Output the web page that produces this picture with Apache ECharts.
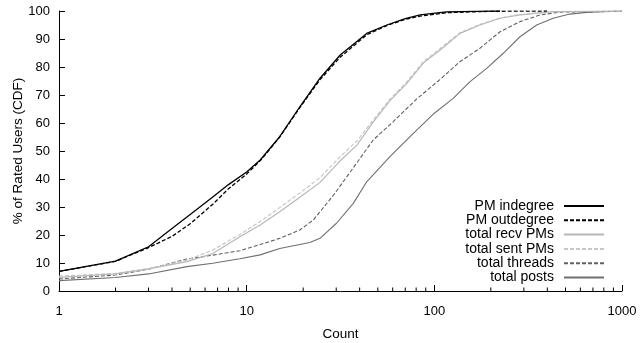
<!DOCTYPE html>
<html>
<head>
<meta charset="utf-8">
<script src="https://cdn.jsdelivr.net/npm/echarts@6/dist/echarts.min.js"></script>
<style>
html,body{margin:0;padding:0;background:#fff;}
#c{width:640px;height:343px;}
</style>
</head>
<body>
<div id="c"></div>
<script>
// ---- data (x = count, y = % of rated users) ----
const seriesNames = ["PM indegree", "PM outdegree", "total recv PMs", "total sent PMs", "total threads", "total posts"];

const pmIndegree = [[1,7.0],[2,10.7],[3,15.8],[4,22.3],[5,27.3],[6.6,33.6],[8,38.0],[10,42.5],[11.8,46.8],[15,55.1],[19.2,65.8],[24.6,76.0],[31.5,84.3],[43.6,92.0],[55.8,95.0],[70,97.3],[84,98.6],[116,99.7],[160,99.9],[224,100]];
const pmOutdegree = [[1,7.0],[2,10.6],[3,15.5],[4,19.5],[5,24.0],[6.6,31.0],[8,36.5],[10,41.8],[12,47.0],[15,55.0],[19.2,65.5],[24.6,75.5],[31.5,83.5],[43.6,91.5],[55.8,94.8],[70,97.0],[84,98.2],[116,99.4],[200,99.9],[398,100]];
const totalRecvPMs = [[1,4.9],[2,6.1],[3,7.9],[4.8,10.5],[6.6,13.4],[9.2,19.4],[11.8,23.6],[15,28.3],[19.2,33.5],[24.6,38.8],[31.5,46.5],[38.6,52.0],[47.2,60.3],[58,68.0],[71,74.0],[87.6,81.5],[107,86.0],[137,92.0],[175,95.0],[224,97.4],[286,98.6],[430,99.8],[1000,100]];
const totalSentPMs = [[1,5.3],[2,6.3],[3,8.0],[4.8,11.0],[6.6,14.6],[9.2,20.2],[11.8,24.8],[15,29.8],[19.2,35.0],[24.6,40.5],[31.5,48.0],[38.6,53.5],[47.2,61.0],[58,68.5],[71,74.5],[87.6,82.0],[107,86.5],[137,92.2],[175,95.2],[224,97.5],[286,98.7],[430,99.8],[1000,100]];
const totalThreads = [[1,4.3],[2,5.7],[3,7.8],[4.8,11.4],[6.6,12.8],[9.2,14.4],[11.8,16.6],[15,18.8],[19.2,21.8],[22.6,25.3],[29,34.2],[37,44.0],[47.2,53.9],[60.4,60.5],[80.6,68.6],[107,75.5],[137,81.9],[175,86.7],[224,92.6],[286,96.2],[366,98.6],[467,99.6],[1000,100]];
const totalPosts = [[1,3.7],[2,4.8],[3,6.1],[4.8,8.7],[6.6,9.9],[9.2,11.5],[11.8,12.9],[15,15.2],[21.7,17.3],[24.6,18.8],[30.1,24.2],[37,31.3],[43.6,39.0],[58,48.0],[77.3,56.3],[100,63.5],[126,68.8],[155,74.8],[190,79.5],[233,84.9],[286,90.8],[351,95.0],[430,97.4],[526,98.9],[648,99.5],[1000,100]];

const xMajorTicks = [1, 10, 100, 1000];
const xMinorTicks = [2,3,4,5,6,7,8,9,20,30,40,50,60,70,80,90,200,300,400,500,600,700,800,900];
const yTicks = [0,10,20,30,40,50,60,70,80,90,100];

// ---- styles ----
const styles = [
  {color:'#000000', width:1.3, type:'solid'},
  {color:'#000000', width:1.3, type:[4,2]},
  {color:'#b8b8b8', width:1.2, type:'solid'},
  {color:'#c8c8c8', width:1.2, type:[4,2]},
  {color:'#606060', width:1.1, type:[4,2]},
  {color:'#707070', width:1.1, type:'solid'}
];
const allData = [pmIndegree, pmOutdegree, totalRecvPMs, totalSentPMs, totalThreads, totalPosts];
const font = 'Liberation Sans, Arial, Helvetica, sans-serif';

const lineSeries = seriesNames.map((n, i) => ({
  name: n,
  type: 'line',
  data: allData[i],
  symbol: 'none',
  showSymbol: false,
  smooth: false,
  animation: false,
  lineStyle: {color: styles[i].color, width: styles[i].width, type: styles[i].type},
  itemStyle: {color: styles[i].color},
  z: 6 - i
}));

const minorTickSeries = {
  type: 'custom',
  silent: true,
  animation: false,
  data: xMinorTicks.map(v => [v, 0]),
  encode: {x: 0, y: 1},
  clip: false,
  renderItem: function (params, api) {
    const p = api.coord([api.value(0), 0]);
    return {
      type: 'line',
      shape: {x1: p[0], y1: p[1], x2: p[0], y2: p[1] - 3.5},
      style: {stroke: '#000', lineWidth: 1}
    };
  },
  z: 20
};

const chart = echarts.init(document.getElementById('c'), null, {renderer: 'canvas'});
chart.setOption({
  backgroundColor: '#ffffff',
  animation: false,
  grid: {left: 59, right: 18, top: 11, bottom: 52, containLabel: false, outerBoundsMode: 'none'},
  legend: {
    data: seriesNames,
    orient: 'vertical',
    right: 35,
    top: 199,
    align: 'right',
    itemWidth: 40,
    itemHeight: 14,
    itemGap: 0.3,
    padding: 0,
    selectedMode: false,
    itemStyle: {opacity: 0},
    textStyle: {fontFamily: font, fontSize: 14, color: '#000', padding: [0, 5, 0, 0], lineHeight: 14}
  },
  xAxis: {
    type: 'log',
    logBase: 10,
    min: xMajorTicks[0],
    max: xMajorTicks[xMajorTicks.length - 1],
    name: 'Count',
    nameLocation: 'middle',
    nameGap: 36,
    nameTextStyle: {fontFamily: font, fontSize: 13.5, color: '#000'},
    axisLine: {show: true, lineStyle: {color: '#000', width: 1}},
    axisTick: {show: true, inside: true, length: 6, lineStyle: {color: '#000'}},
    axisLabel: {fontFamily: font, fontSize: 13, color: '#000', margin: 14,
      formatter: v => String(Math.round(v))},
    splitLine: {show: false},
    minorTick: {show: false}
  },
  yAxis: {
    type: 'value',
    min: yTicks[0],
    max: yTicks[yTicks.length - 1],
    interval: 10,
    name: '% of Rated Users (CDF)',
    nameLocation: 'middle',
    nameGap: 34,
    nameMoveOverlap: false,
    nameTextStyle: {fontFamily: font, fontSize: 13.5, color: '#000'},
    axisLine: {show: true, lineStyle: {color: '#000', width: 1}},
    axisTick: {show: true, inside: true, length: 6, lineStyle: {color: '#000'}},
    axisLabel: {fontFamily: font, fontSize: 13, color: '#000', margin: 9},
    splitLine: {show: false}
  },
  series: lineSeries.concat([minorTickSeries])
});
</script>
</body>
</html>
